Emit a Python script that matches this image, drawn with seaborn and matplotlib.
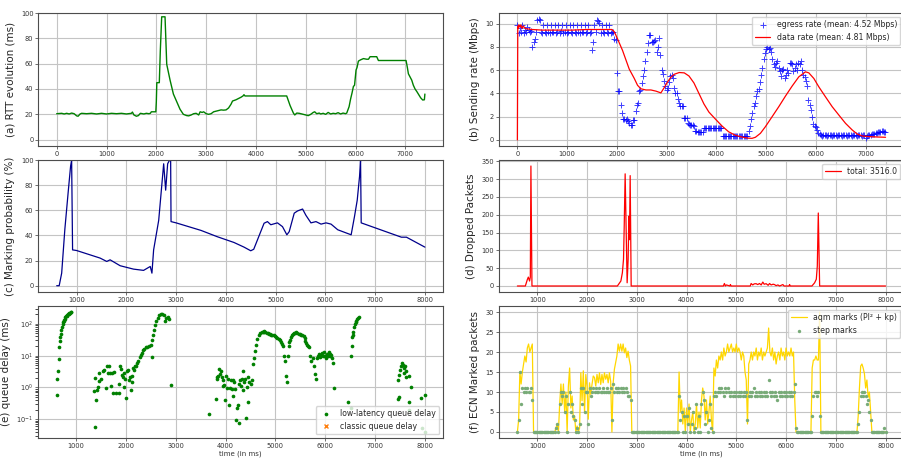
import numpy as np
import seaborn as sns
import matplotlib.pyplot as plt

# ---------------- (a) RTT evolution ----------------
rtt_t = [0, 100, 150, 200, 250, 300, 350, 400, 430, 470,
         500, 600, 700, 800, 900, 1000, 1100, 1200, 1300, 1400,
         1500, 1520, 1550, 1600, 1640, 1680, 1750, 1800, 1850, 1880,
         1900, 1990, 2000, 2010, 2060, 2080, 2108, 2175, 2209, 2276,
         2343, 2409, 2476, 2543, 2610, 2650, 2700, 2750, 2800, 2850,
         2880, 2920, 2950, 3000, 3050, 3100, 3150, 3200, 3250, 3300,
         3350, 3400, 3450, 3500, 3530, 3600, 3650, 3700, 3740, 3760,
         3780, 3815, 4618, 4650, 4685, 4752, 4780, 4820, 4870, 4950,
         5000, 5050, 5100, 5150, 5180, 5220, 5270, 5300, 5350, 5400,
         5450, 5500, 5550, 5600, 5650, 5700, 5750, 5800, 5823, 5870,
         5900, 5930, 5957, 5980, 6010, 6030, 6057, 6100, 6158, 6224,
         6260, 6291, 6350, 6425, 6459, 7014, 7040, 7061, 7100, 7128,
         7160, 7195, 7230, 7261, 7308, 7348, 7382, 7392]
rtt_v = [20.5, 20.8, 20.3, 20.8, 20.3, 21, 20.5, 18.8, 18.5, 20.3,
         20.8, 20.5, 20.8, 20.3, 20.8, 20.3, 20.8, 20.5, 20.8, 20.3,
         20.8, 21.8, 19.5, 18.5, 19, 20.8, 20.3, 20.8, 20.5, 20.8,
         22, 22, 30, 45, 45, 70, 97, 97, 59.5, 47,
         36, 30, 24, 20, 19, 18.8, 19.5, 20.5, 20.8, 19.5,
         22, 21.5, 22, 20.5, 20, 20.5, 22, 22.5, 23, 23.5,
         23.3, 23.5, 25, 28, 30.5, 31.5, 32.5, 33.5, 34.5, 35.5,
         34.5, 34.5, 34.5, 31, 27, 21, 19.5, 21, 20.8, 20,
         19.5, 19, 20, 21.5, 22, 20.5, 21, 20.3, 20.8, 20,
         21.5, 20.3, 20.8, 20.5, 21.3, 20.3, 21, 20.5, 21, 26,
         32, 37, 42, 43, 55, 57, 62, 63, 64, 63.5,
         63.5, 65.5, 65.5, 65.5, 62.5, 62.5, 57, 52, 49, 47,
         43, 40, 38, 36, 33, 31.3, 31.5, 36]

# ---------------- (b) sending rate ----------------
egress_t = np.arange(0, 7401, 25)
egress_v = [9.9, 9.2, 9.6, 9.3, 9.9, 9.2, 9.5, 9.3, 9.7, 9.5, 9.3, 9.4, 8.0, 8.4, 8.7, 9.3, 10.3, 10.4, 10.3, 9.3,
            9.2, 9.9, 9.3, 9.2, 9.9, 9.3, 9.2, 9.9, 9.25, 9.3, 9.9, 9.2, 9.3, 9.9, 9.2, 9.35, 9.9, 9.2, 9.3, 9.9,
            9.2, 9.3, 9.9, 9.25, 9.2, 9.9, 9.3, 9.2, 9.9, 9.3, 9.2, 9.9, 9.25, 9.3, 9.9, 9.2, 9.3, 9.9, 9.2, 9.3,
            7.7, 8.4, 9.9, 9.3, 10.3, 10.2, 10.1, 9.2, 9.9, 9.3, 9.2, 9.9, 9.3, 9.2, 9.9, 9.2, 9.3, 9.3, 8.7, 8.6,
            5.8, 4.2, 4.2, 3.0, 2.3, 1.8, 1.8, 1.7, 1.8, 1.6, 1.5, 1.3, 1.3, 1.7, 1.7, 2.5, 3.0, 3.2, 4.2, 4.3,
            4.9, 5.5, 6.0, 6.8, 7.6, 8.3, 9.0, 9.0, 8.4, 8.4, 8.5, 8.6, 7.6, 8.0, 8.8, 7.3, 6.0, 5.7, 5.1, 4.6,
            4.3, 4.5, 5.0, 5.5, 5.6, 5.3, 4.5, 4.0, 4.0, 3.5, 3.2, 2.9, 2.9, 2.9, 1.9, 1.9, 1.9, 1.5, 1.4, 1.3,
            1.3, 1.3, 1.2, 0.8, 0.75, 0.7, 0.7, 0.65, 0.7, 0.65, 1.0, 1.0, 1.0, 1.0, 1.0, 1.0, 1.0, 1.0, 1.0, 1.0,
            1.0, 1.0, 1.0, 1.0, 1.0, 0.3, 0.3, 0.3, 0.3, 0.3, 0.3, 0.3, 0.3, 0.3, 0.3, 0.3, 0.3, 0.3, 0.3, 0.3,
            0.3, 0.3, 0.3, 0.3, 0.35, 0.3, 0.8, 1.2, 1.8, 2.3, 2.9, 3.2, 3.8, 4.2, 4.4, 5.0, 5.6, 6.2, 7.0, 7.5,
            7.8, 8.0, 7.8, 7.9, 7.6, 7.0, 6.5, 6.3, 6.6, 6.8, 6.2, 5.9, 5.5, 6.0, 6.1, 5.3, 5.6, 6.0, 5.8, 6.6,
            6.6, 6.5, 5.9, 6.2, 6.5, 6.0, 6.6, 6.5, 6.8, 6.0, 5.6, 5.4, 5.1, 4.6, 3.4, 3.0, 2.6, 2.0, 1.4, 1.2,
            1.1, 0.85, 0.6, 0.5, 0.4, 0.38, 0.4, 0.42, 0.4, 0.38, 0.4, 0.42, 0.4, 0.38, 0.4, 0.42, 0.4, 0.38, 0.4, 0.42,
            0.4, 0.38, 0.4, 0.42, 0.4, 0.38, 0.4, 0.42, 0.4, 0.38, 0.4, 0.42, 0.4, 0.38, 0.4, 0.42, 0.4, 0.38, 0.4, 0.42,
            0.15, 0.35, 0.4, 0.45, 0.45, 0.5, 0.5, 0.55, 0.6, 0.6, 0.65, 0.7, 0.7, 0.75, 0.75, 0.7, 0.65]
rate_t = [0, 8, 15, 30, 50, 70, 90, 120, 150, 200,
          300, 500, 800, 1100, 1400, 1700, 1900, 1950, 2013, 2114,
          2181, 2248, 2349, 2416, 2483, 2584, 2684, 2785, 2885, 2952,
          3020, 3087, 3154, 3254, 3355, 3450, 3550, 3650, 3750, 3850,
          3980, 4114, 4248, 4382, 4517, 4650, 4718, 4785, 4886, 4986,
          5121, 5255, 5389, 5523, 5658, 5792, 5859, 5960, 6060, 6194,
          6329, 6463, 6597, 6731, 6832, 6933, 7067, 7201, 7402]
rate_v = [0, 9.8, 9.6, 9.9, 9.7, 9.9, 9.6, 9.8, 9.6, 9.55,
          9.5, 9.45, 9.45, 9.45, 9.5, 9.5, 9.5, 9.3, 8.7, 7.7,
          6.9, 6.1, 5.3, 4.7, 4.4, 4.3, 4.3, 4.2, 4.05, 4.5,
          5.0, 5.4, 5.65, 5.8, 5.77, 5.5, 4.9, 4.0, 3.1, 2.4,
          1.8, 1.2, 0.7, 0.4, 0.25, 0.15, 0.14, 0.23, 0.57, 1.14,
          2.0, 2.86, 3.77, 4.63, 5.43, 5.86, 5.77, 5.29, 4.57, 3.71,
          2.86, 2.14, 1.43, 0.86, 0.51, 0.34, 0.29, 0.26, 0.23]

# ---------------- (c) marking probability ----------------
mark_t = [600, 650, 700, 764, 832, 879, 900, 919, 1000, 1471,
          1606, 1673, 1875, 2144, 2346, 2480, 2514, 2548, 2650, 2750,
          2790, 2830, 2870, 2890, 2898, 3000, 3500, 3826, 4163, 4365,
          4500, 4560, 4768, 4836, 4903, 5037, 5138, 5226, 5273, 5374,
          5441, 5542, 5609, 5710, 5811, 5913, 6013, 6114, 6249, 6518,
          6585, 6640, 6687, 6707, 6720, 7528, 7630, 8000]
mark_v = [0, 0, 10, 45, 75, 95, 100, 28.5, 28, 22,
          19.3, 20.6, 15.9, 13.2, 12.2, 15.3, 10, 28.5, 52, 97,
          76, 97, 100, 100, 51, 50, 44, 39, 34.4, 30.7,
          27.8, 29, 49.7, 51, 48.5, 50, 47, 40.5, 43, 57.7,
          59.5, 61, 56, 50, 51, 49, 50, 49, 44.5, 40.5,
          55, 68, 87, 100, 50, 38.6, 38.6, 30.7]

# ---------------- (d) dropped packets ----------------
drop_t = [600, 760, 800, 820, 845, 860, 872, 893, 2610, 2680,
          2710, 2733, 2746, 2766, 2786, 2806, 2826, 2840, 2853, 2867,
          2887, 4740, 4761, 4780, 4800, 4870, 4882, 4895, 5280, 5298,
          5330, 5360, 5399, 5430, 5466, 5500, 5533, 5560, 5600, 5640,
          5668, 5700, 5740, 5768, 5800, 5836, 5870, 5936, 5960, 6060,
          6071, 6085, 6520, 6574, 6608, 6628, 6648, 6675, 8000]
drop_v = [0, 0, 18, 25, 14, 25, 337, 0, 0, 14,
          37, 75, 159, 315, 159, 9, 75, 196, 130, 310,
          0, 0, 7, 0, 3, 0, 4, 0, 0, 7,
          3, 6, 6.5, 4, 7, 3, 11, 5, 6.5, 2,
          7, 3, 5, 4, 1, 3, 0, 4, 0, 0,
          4, 0, 0, 9, 19, 56, 205, 0, 0]

# ---------------- (e) queue delay ----------------
delay_t = [613, 627, 640, 653, 667, 680, 687, 693, 707, 720, 733, 740, 753, 760, 773, 787, 800,
           813, 827, 840, 853, 867, 880, 890, 900,
           1367, 1387, 1387, 1400, 1420, 1433, 1453, 1467, 1500, 1533,
           1567, 1600, 1620, 1633, 1653, 1680, 1700, 1720, 1747, 1767,
           1800, 1853, 1867, 1880, 1900, 1920, 1933, 1953, 1967, 1987,
           2000, 2013, 2033, 2053, 2080, 2100, 2120, 2133, 2147, 2167,
           2187, 2213, 2233, 2253, 2280, 2300, 2320, 2347, 2373, 2400,
           2433, 2467, 2500, 2520, 2533, 2547, 2567, 2587, 2613, 2640,
           2667, 2700, 2733, 2767, 2787, 2813, 2840, 2867, 2914,
           3673, 3807, 3820, 3834, 3854, 3874, 3888, 3901, 3921, 3941,
           3955, 3968, 3988, 4008, 4022, 4042, 4062, 4089, 4103, 4123,
           4143, 4157, 4177, 4190, 4210, 4237, 4257, 4278, 4278, 4291,
           4304, 4325, 4345, 4358, 4372, 4392, 4412, 4425, 4446, 4459,
           4479, 4506, 4526,
           4546, 4560, 4580, 4607, 4640, 4680, 4700, 4727, 4745, 4761,
           4775, 4794, 4828, 4845, 4862, 4885, 4909, 4935, 4963, 4990,
           5016, 5040, 5063, 5085, 5110, 5130, 5151, 5178, 5198, 5218,
           5231, 5245, 5265, 5280, 5299, 5315, 5332, 5355, 5379, 5400,
           5419, 5440, 5466, 5490, 5513, 5540, 5567, 5585, 5601, 5618,
           5634, 5650, 5668, 5701, 5721, 5755, 5768, 5802, 5822, 5835,
           5850, 5869, 5885, 5903, 5920, 5936, 5950, 5970, 5985, 6003,
           6020, 6037, 6055, 6070, 6087, 6104, 6120, 6137, 6158, 6171,
           6455, 6510, 6523, 6530, 6543, 6550, 6563, 6577, 6590, 6610, 6625, 6644, 6660, 6685,
           7453, 7453, 7473, 7487, 7507, 7527, 7547, 7560, 7574, 7587, 7601, 7614, 7628, 7675,
           7675, 7688, 7722, 7910, 7943, 7997, 7997]
delay_v = [0.57, 1.9, 3.2, 7.6, 18, 29, 39, 49, 62, 79, 100, 110, 120, 130, 145, 160, 170,
           180, 190, 200, 210, 217, 224, 230, 234,
           0.79, 0.059, 1.95, 0.39, 0.81, 1.07, 1.55, 2.8, 1.9, 3.2,
           3.5, 0.95, 4.6, 2.95, 4.8, 2.8, 1.15, 2.8, 0.68, 3.0,
           0.65, 0.68, 1.3, 4.6, 3.7, 2.5, 2.1, 1.02, 2.8, 1.8,
           0.47, 3.2, 3.5, 1.7, 2.2, 0.85, 1.45, 2.3, 4.0, 3.5,
           4.6, 4.8, 5.8, 6.9, 8.9, 10.5, 12.3, 14.8, 16.6, 18,
           19, 20.4, 21.4, 9.3, 30, 44, 62, 89, 120, 155,
           182, 204, 204, 182, 120, 155, 162, 145, 1.2,
           0.15, 0.45, 1.86, 2.1, 2.24, 3.8, 2.6, 3.2, 2.1, 1.66,
           1.1, 1.2, 0.4, 2.3, 0.95, 1.86, 0.28, 0.95, 1.66, 0.91,
           1.66, 0.54, 1.45, 0.91, 0.095, 0.22, 0.28, 1.3, 0.075, 1.66,
           1.1, 1.86, 3.4, 0.81, 1.45, 1.86, 0.11, 1.02, 2.1, 0.35,
           1.45, 1.3, 1.66,
           5.4, 8.7, 13.8, 22, 34, 46, 50, 54, 57, 58,
           56, 54, 51, 50, 48, 47, 46, 45, 43, 41,
           39, 37, 34, 31, 26, 23, 20, 9.8, 6.8, 2.3,
           1.45, 9.8, 20, 26, 32, 38, 43, 48, 51, 53,
           54, 52, 49, 47, 45, 43, 41, 35, 28, 25,
           22, 20, 18, 9.8, 6.8, 8.7, 4.8, 2.6, 1.86, 8.7,
           10, 11, 9, 9.8, 10.5, 11.7, 9.5, 12.9, 10, 9.8,
           8.5, 11, 10, 12.9, 9.5, 11, 10.5, 8.7, 6.0, 0.95,
           0.35, 0.23, 10, 20, 39, 45, 55, 79, 95, 112, 125, 145, 150, 158,
           1.66, 0.45, 0.52, 2.5, 3.5, 4.6, 6.0, 5.0, 4.0, 2.8, 4.6, 2.1, 3.2, 2.3,
           0.2, 0.35, 1.0, 0.47, 0.055, 0.6, 0.04]

# ---------------- (f) ECN marked packets ----------------
ecn_t = np.arange(600, 8001, 25)
aqm_v = [0, 3, 15, 12, 15, 17, 19, 17.5, 21, 22, 20, 21, 22, 0, 0, 0, 0, 0, 0, 0,
         0, 0, 0, 0, 0, 0, 0, 0, 0, 0, 0, 1, 2, 0, 7, 12, 7, 12, 5, 10,
         0, 11.5, 16, 6, 9, 3, 4, 0, 1.5, 0, 1, 14.8, 7.8, 15.3, 4.8, 14.4, 11.5, 3.2, 12.3, 9.4,
         11.9, 14, 13.6, 11.5, 14.4, 12.3, 14.8, 11.9, 14.4, 12.3, 14.8, 13.2, 14.4, 12.3, 14.8, 12.7, 0, 12.3, 15.7, 17.3,
         19, 22, 20.2, 22, 20.2, 22, 19.8, 21, 18.6, 20.2, 18, 16.5, 0, 0, 0, 0, 0, 0, 0, 0,
         0, 0, 0, 0, 0, 0, 0, 0, 0, 0, 0, 0, 0, 0, 0, 0, 0, 0, 0, 0,
         0, 0, 0, 0, 0, 0, 0, 0, 0, 0, 15, 5, 8, 2, 6, 0, 6, 2, 7, 0,
         3, 5, 0, 2, 7, 1, 5, 1, 8, 11, 9, 3, 8, 2, 5, 9, 3, 0, 16, 14,
         18, 16, 19, 18, 20, 18, 21, 19, 20, 22, 20, 21, 22, 20, 21, 20, 22, 20, 21, 20,
         18, 20, 19, 15, 13, 2, 17, 18, 20, 18, 20, 19, 21, 18, 20, 19, 21, 18, 20, 19,
         20, 21, 26, 20, 19, 21, 18, 20, 17, 19, 20, 18, 21, 19, 20, 18, 21, 19, 20, 19,
         21, 19, 20, 8, 0, 0, 0, 0, 0, 0, 0, 0, 0, 0, 0, 0, 0, 16, 18, 18,
         19, 18, 18, 30, 0, 0, 0, 0, 0, 0, 0, 0, 0, 0, 0, 0, 0, 0, 0, 0,
         0, 0, 0, 0, 0, 0, 0, 0, 0, 0, 0, 0, 0, 0, 4, 11, 16.5, 17, 16, 14.6,
         11, 13, 8.7, 10, 5, 0, 0, 0, 0, 0, 0, 0, 0, 0, 0, 0, 0]
step_v = [0, 3, 15, 7, 11, 10, 11, 10, 11, 10, 10, 11, 8, 0, 0, 0, 0, 0, 0, 0,
          0, 0, 0, 0, 0, 0, 0, 0, 0, 0, 0, 1, 2, 0, 7, 10, 9, 10, 5, 9,
          0, 7, 10, 5, 7, 4, 3, 0, 1, 0, 2, 11, 7, 11, 5, 10, 10, 2, 11, 9,
          10, 11, 10, 11, 10, 10, 11, 10, 10, 11, 10, 10, 11, 10, 10, 11, 3, 12, 10, 11,
          10, 11, 10, 11, 10, 11, 10, 11, 10, 9, 9, 8, 0, 0, 0, 0, 0, 0, 0, 0,
          0, 0, 0, 0, 0, 0, 0, 0, 0, 0, 0, 0, 0, 0, 0, 0, 0, 0, 0, 0,
          0, 0, 0, 0, 0, 0, 0, 0, 0, 0, 9, 3, 5, 0, 4, 0, 4, 2, 6, 0,
          2, 5, 0, 1, 7, 0, 4, 0, 7, 10, 8, 2, 5, 0, 3, 7, 1, 0, 9, 10,
          9, 10, 11, 10, 11, 10, 9, 11, 10, 11, 10, 9, 10, 9, 10, 9, 10, 9, 10, 9,
          10, 9, 10, 9, 10, 3, 9, 10, 9, 10, 11, 9, 10, 9, 10, 9, 10, 9, 10, 9,
          10, 9, 13, 10, 9, 10, 9, 10, 9, 8, 10, 9, 10, 9, 10, 9, 10, 9, 10, 9,
          10, 9, 10, 12, 1, 0, 0, 0, 0, 0, 0, 0, 0, 0, 0, 0, 0, 4, 9, 10,
          10, 9, 10, 4, 0, 0, 0, 0, 0, 0, 0, 0, 0, 0, 0, 0, 0, 0, 0, 0,
          0, 0, 0, 0, 0, 0, 0, 0, 0, 0, 0, 0, 0, 0, 2, 5, 9, 10, 9, 10,
          9, 7, 8, 5, 3, 0, 0, 0, 0, 0, 0, 0, 0, 0, 0, 1, 0]


def style_axis(ax):
    ax.grid(True, color="#c4c4c4", linewidth=0.8)
    ax.tick_params(labelsize=4.8, length=2, width=0.5, colors="0.2", pad=1.5)
    for sp in ax.spines.values():
        sp.set_color("0.3")
        sp.set_linewidth(0.8)


def main():
    sns.set_style("ticks")
    plt.rcParams["font.family"] = ["DejaVu Sans"]

    fig = plt.figure(figsize=(9.01, 4.61), dpi=100)
    lefts = [0.0425, 0.5538]
    bottoms = [0.6833, 0.3666, 0.0499]
    heights = [0.2885, 0.2863, 0.2863]
    axes = [[fig.add_axes([l, b, 0.4495, h]) for l in lefts]
            for b, h in zip(bottoms, heights)]

    lab = dict(fontsize=7.5, color="0.15")
    leg = dict(fontsize=5.6, framealpha=0.8, borderpad=0.4)

    # (a)
    ax = axes[0][0]
    sns.lineplot(x=rtt_t, y=rtt_v, ax=ax, color="green", linewidth=1.0,
                 estimator=None, sort=False)
    ax.set_ylim(-5, 100)
    ax.set_ylabel("(a) RTT evolution (ms)", **lab)

    # (b)
    ax = axes[0][1]
    sns.scatterplot(x=egress_t, y=egress_v, ax=ax, marker="+", color="blue",
                    s=16, linewidth=0.7, alpha=0.75,
                    label="egress rate (mean: 4.52 Mbps)")
    sns.lineplot(x=rate_t, y=rate_v, ax=ax, color="red", linewidth=0.9,
                 estimator=None, sort=False, label="data rate (mean: 4.81 Mbps)")
    ax.set_ylabel("(b) Sending rate (Mbps)", **lab)
    ax.legend(loc="upper right", **leg)

    # (c)
    ax = axes[1][0]
    sns.lineplot(x=mark_t, y=mark_v, ax=ax, color="darkblue", linewidth=0.9,
                 estimator=None, sort=False)
    ax.set_ylim(-5, 100)
    ax.set_ylabel("(c) Marking probability (%)", **lab)

    # (d)
    ax = axes[1][1]
    sns.lineplot(x=drop_t, y=drop_v, ax=ax, color="red", linewidth=0.9,
                 estimator=None, sort=False, label="total: 3516.0")
    ax.set_ylabel("(d) Dropped Packets", **lab)
    ax.legend(loc="upper right", **leg)

    # (e)
    ax = axes[2][0]
    ax.set_yscale("log")
    sns.scatterplot(x=delay_t, y=delay_v, ax=ax, color="green", s=7,
                    linewidth=0, label="low-latency queue delay")
    ax.plot([], [], "x", color="tab:orange", markersize=3.5,
            label="classic queue delay")
    ax.set_ylabel("(e) queue delay (ms)", **lab)
    ax.set_xlabel("time (in ms)", fontsize=5, color="0.2", labelpad=1.5)
    ax.legend(loc="lower right", **leg)

    # (f)
    ax = axes[2][1]
    sns.lineplot(x=ecn_t, y=aqm_v, ax=ax, color="gold", linewidth=0.9,
                 estimator=None, sort=False, label="aqm marks (PI\u00b2 + kp)")
    sns.scatterplot(x=ecn_t, y=step_v, ax=ax, color="#78ab78", s=6,
                    linewidth=0, label="step marks", zorder=3)
    ax.set_ylabel("(f) ECN Marked packets", **lab)
    ax.set_xlabel("time (in ms)", fontsize=5, color="0.2", labelpad=1.5)
    ax.legend(loc="upper right", **leg)

    for row in axes:
        for ax in row:
            style_axis(ax)

    fig.savefig("out.png", dpi=100)


if __name__ == "__main__":
    assert len(rtt_t) == len(rtt_v)
    assert len(egress_t) == len(egress_v)
    assert len(rate_t) == len(rate_v)
    assert len(mark_t) == len(mark_v)
    assert len(drop_t) == len(drop_v)
    assert len(delay_t) == len(delay_v)
    assert len(ecn_t) == len(aqm_v) == len(step_v)
    main()
